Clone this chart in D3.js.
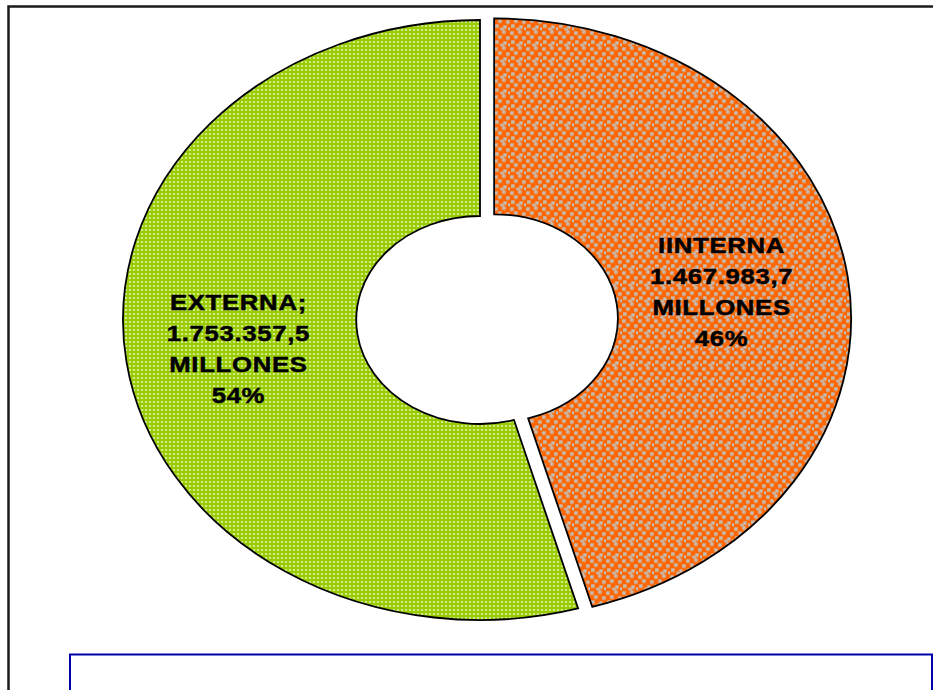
<!DOCTYPE html>
<html>
<head>
<meta charset="utf-8">
<script src="https://cdn.jsdelivr.net/npm/d3@7"></script>
<style>
  body { margin: 0; background: #fff; }
  svg { display: block; }
</style>
</head>
<body>
<div id="chart"></div>
<script>
// data
const categories = ["IINTERNA", "EXTERNA;"];
const values = [1467983.7, 1753357.5];
const valueLabels = ["1.467.983,7", "1.753.357,5"];
const unitLabel = "MILLONES";

const width = 933, height = 690;
const cx = 480, cy = 320,
      ry = 300, sx = 1.19,       // excel stretched the donut sideways
      innerR = 104,
      explode = 12;               // orange slice pulled out

const svg = d3.select("#chart").append("svg")
  .attr("width", width)
  .attr("height", height);

const defs = svg.append("defs");

// green: lime with tiny light dots
const pg = defs.append("pattern")
  .attr("id", "pGreen")
  .attr("patternUnits", "userSpaceOnUse")
  .attr("width", 4).attr("height", 4)
  .attr("patternTransform", `scale(${1 / sx},1)`);
pg.append("rect").attr("width", 4).attr("height", 4).attr("fill", "#99CC00");
pg.append("rect").attr("x", 1).attr("y", 1).attr("width", 2).attr("height", 2).attr("fill", "#DDEFA0");

// orange: with grey squares scattered around
const po = defs.append("pattern")
  .attr("id", "pOrange")
  .attr("patternUnits", "userSpaceOnUse")
  .attr("width", 16).attr("height", 16)
  .attr("patternTransform", `scale(${1 / sx},1)`);
po.append("rect").attr("width", 16).attr("height", 16).attr("fill", "#FF6600");
[[0, 1], [8, 0], [4, 5], [12, 6], [1, 10], [9, 11], [6, 13.5], [14, 13]].forEach(p => {
  po.append("rect").attr("x", p[0]).attr("y", p[1])
    .attr("width", 3.5).attr("height", 3.5).attr("fill", "#C4BEB8");
});

const fills = ["url(#pOrange)", "url(#pGreen)"];

// outer frame (runs off the right and bottom)
svg.append("rect")
  .attr("x", 8.5).attr("y", 6.5)
  .attr("width", 960).attr("height", 720)
  .attr("fill", "none")
  .attr("stroke", "#1a1a1a")
  .attr("stroke-width", 2.5);

const pie = d3.pie().sort(null).value(d => d);
const arcs = pie(values);
const total = d3.sum(values);

const arc = d3.arc().innerRadius(innerR).outerRadius(ry);
const labelArc = d3.arc().innerRadius(205).outerRadius(205);

const g = svg.append("g")
  .attr("transform", `translate(${cx},${cy}) scale(${sx},1)`);

g.selectAll("path")
  .data(arcs)
  .join("path")
    .attr("transform", (d, i) => {
      if (i !== 0) return null;
      const a = (d.startAngle + d.endAngle) / 2;
      return `translate(${explode * Math.sin(a)},${-explode * Math.cos(a)})`;
    })
    .attr("d", arc)
    .attr("fill", (d, i) => fills[i])
    .attr("stroke", "#000")
    .attr("stroke-width", 1.8)
    .attr("vector-effect", "non-scaling-stroke");

// labels
const lineH = 31;
arcs.forEach((d, i) => {
  const c = labelArc.centroid(d);
  const lx = cx + c[0] * sx, ly = cy + c[1];
  const lines = [categories[i], valueLabels[i], unitLabel, Math.round(d.value / total * 100) + "%"];
  const t = svg.append("g")
    .attr("transform", `translate(${lx},${ly}) scale(1.12,1)`)
    .append("text")
      .attr("text-anchor", "middle")
      .style("font-family", "Liberation Sans, Arial, sans-serif")
      .style("font-weight", "bold")
      .style("font-size", "23px")
      .style("letter-spacing", "0.6px")
      .attr("fill", "#000")
      .attr("stroke", "#000")
      .attr("stroke-width", 0.5);
  lines.forEach((s, k) => {
    t.append("tspan")
      .attr("x", 0)
      .attr("y", (k - 1.5) * lineH + 8)
      .text(s);
  });
});

// blue box at the bottom (cut off)
svg.append("rect")
  .attr("x", 70).attr("y", 654.5)
  .attr("width", 862).attr("height", 80)
  .attr("fill", "#fff")
  .attr("stroke", "#0000AA")
  .attr("stroke-width", 2);
</script>
</body>
</html>
